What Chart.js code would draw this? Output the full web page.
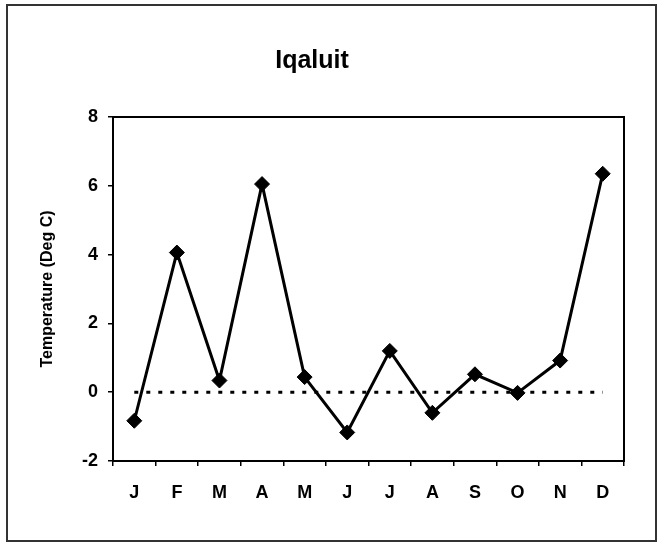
<!DOCTYPE html>
<html><head><meta charset="utf-8">
<script src="https://cdn.jsdelivr.net/npm/chart.js@4/dist/chart.umd.min.js"></script>
<style>
html,body{margin:0;padding:0;background:#fff;}
#wrap{position:relative;width:659px;height:545px;}
#frame{position:absolute;left:6px;top:4px;width:647px;height:534px;border:2px solid #333;pointer-events:none;}
canvas{position:absolute;left:0;top:0;}
</style></head><body>
<div id="wrap"><canvas id="c" width="659" height="545"></canvas><div id="frame"></div></div>
<script>
const chartTitle = 'Iqaluit';
const yAxisTitle = 'Temperature (Deg C)';
const months = ['J','F','M','A','M','J','J','A','S','O','N','D'];
const temperature = [-0.83, 4.06, 0.34, 6.05, 0.44, -1.17, 1.20, -0.60, 0.52, -0.02, 0.92, 6.35];
const zeroLine = [0,0,0,0,0,0,0,0,0,0,0,0];
const yTicks = [-2,0,2,4,6,8];

const FONT = "'Liberation Sans', Arial, sans-serif";

const plotBorder = {
  id: 'plotBorder',
  afterDraw(chart) {
    const {ctx, chartArea: a} = chart;
    ctx.save();
    ctx.strokeStyle = '#000';
    ctx.lineWidth = 2;
    ctx.strokeRect(a.left, a.top, a.right - a.left, a.bottom - a.top);
    ctx.restore();
  }
};

new Chart(document.getElementById('c'), {
  type: 'line',
  data: {
    labels: months,
    datasets: [
      {
        label: 'Temperature',
        data: temperature,
        borderColor: '#000',
        borderWidth: 3,
        pointStyle: 'rectRot',
        pointRadius: 7.5,
        pointBorderWidth: 1,
        pointBackgroundColor: '#000',
        pointBorderColor: '#000',
        tension: 0,
        clip: false
      },
      {
        label: 'Zero',
        data: zeroLine,
        borderColor: '#000',
        borderWidth: 3,
        borderDash: [4, 8],
        pointRadius: 0,
        tension: 0,
        clip: false
      }
    ]
  },
  options: {
    responsive: false,
    animation: false,
    layout: { padding: { left: 0, right: 35, top: 0, bottom: 0 } },
    plugins: {
      legend: { display: false },
      tooltip: { enabled: false },
      title: {
        display: true,
        text: chartTitle,
        color: '#000',
        font: { family: FONT, size: 25, weight: 'bold' },
        padding: { top: 46, bottom: 41 }
      }
    },
    scales: {
      x: {
        type: 'category',
        offset: true,
        grid: { display: true, offset: true, drawOnChartArea: false, drawTicks: true, tickLength: 5, color: '#000', lineWidth: 1.5 },
        border: { display: true, color: '#000', width: 2 },
        ticks: { color: '#000', font: { family: FONT, size: 18, weight: 'bold' }, padding: 16, maxRotation: 0, autoSkip: false },
        afterFit(scale) { scale.height = 84; }
      },
      y: {
        min: -2, max: 8,
        afterBuildTicks(scale) { scale.ticks = yTicks.map(v => ({ value: v })); },
        grid: { display: true, drawOnChartArea: false, drawTicks: true, tickLength: 5, color: '#000', lineWidth: 1.5 },
        border: { display: true, color: '#000', width: 2 },
        ticks: { color: '#000', font: { family: FONT, size: 18, weight: 'bold' }, padding: 10 },
        title: {
          display: true,
          text: yAxisTitle,
          color: '#000',
          font: { family: FONT, size: 16, weight: 'bold' },
          padding: { top: 38, bottom: 0 }
        },
        afterFit(scale) { scale.width = 113; }
      }
    }
  },
  plugins: [plotBorder]
});
</script>
</body></html>
